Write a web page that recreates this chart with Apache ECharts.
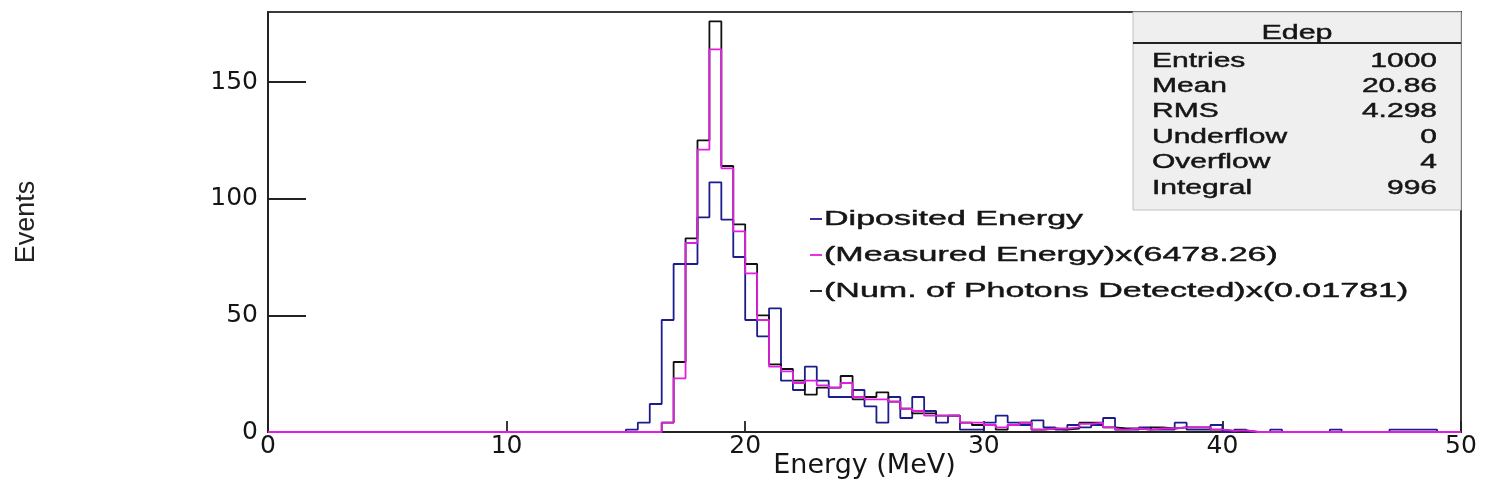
<!DOCTYPE html>
<html><head><meta charset="utf-8">
<script src="https://cdn.jsdelivr.net/npm/echarts@6/dist/echarts.min.js"></script>
<style>html,body{margin:0;padding:0;background:#fff}#c{width:1485px;height:495px}</style>
</head><body><div id="c"></div>
<script>
// Histogram binning (100 bins, 0-50 MeV)
const xMin = 0, xMax = 50, binWidth = 0.5;
const xTickLabels = [0, 10, 20, 30, 40, 50];
const yTickLabels = [0, 50, 100, 150];
const yMax = 180;

// Deposited energy (counts per bin)
const depositedEnergy = [
  0,0,0,0,0,0,0,0,0,0,
  0,0,0,0,0,0,0,0,0,0,
  0,0,0,0,0,0,0,0,0,0,
  1,4,12,48,72,72,92,107,91,75,
  48,41,53,22,18,28,22,15,15,18,
  11,4,15,6,15,9,4,7,1,1,
  4,7,4,3,5,2,1,3,2,3,
  6,1,1,2,1,1,4,1,1,3,
  0,1,0,0,1,0,0,0,0,1,
  0,0,0,0,1,1,1,1,0,0
];
// (Measured Energy) x 6478.26
const measuredEnergy = [
  0,0,0,0,0,0,0,0,0,0,
  0,0,0,0,0,0,0,0,0,0,
  0,0,0,0,0,0,0,0,0,0,
  0,0,0,4,23,81,121,164,113,86,
  68,48,28,26,21,22,20,19,21,15,
  14,14,13,10,9,7,7,7,4,4,
  3,2,3,4,1,1.5,1.5,2,3.5,4,
  2,1,1.5,1,1.5,1.5,2,2,2,1,
  0.5,0.7,0,0,0,0,0,0,0,0,
  0,0,0,0,0,0,0,0,0,0
];
// (Num. of Photons Detected) x 0.01781
const photonsDetected = [
  0,0,0,0,0,0,0,0,0,0,
  0,0,0,0,0,0,0,0,0,0,
  0,0,0,0,0,0,0,0,0,0,
  0,0,0,4,30,83,125,176,114,89,
  72,50,29,27,22,16,19,19,24,14,
  15,17,13,10,8,8,7,7,4,3,
  3,1,3,4,1,1.5,1,1.5,4,4,
  2,1.5,1.5,1,2,1.5,2,2,2,1,
  0.5,0.7,0,0,0,0,0,0,0,0,
  0,0,0,0,0,0,0,0,0,0
];
const seriesNames = ['Diposited Energy', '(Measured Energy)x(6478.26)', '(Num. of Photons Detected)x(0.01781)'];
const statsTitle = 'Edep';
const statsLabels = ['Entries', 'Mean', 'RMS', 'Underflow', 'Overflow', 'Integral'];
const statsValues = ['1000', '20.86', '4.298', '0', '4', '996'];

function stepData(vals) {
  const d = vals.map((v, i) => [xMin + i * binWidth, v]);
  d.push([xMax, vals[vals.length - 1]]);
  return d;
}

const chart = echarts.init(document.getElementById('c'), null, {renderer: 'canvas'});
const F = '"Liberation Sans", Arial, sans-serif';
const colors = ['#1c1c8c', '#e01ee0', '#111111'];
const txt = {fill: '#151515', stroke: '#151515', lineWidth: 0.45};

const graphics = [];
// Stats box
graphics.push({type: 'rect', shape: {x: 1133, y: 12, width: 328, height: 198}, style: {fill: '#efefef', stroke: '#c0c0c0', lineWidth: 1}, z: 10});
graphics.push({type: 'line', shape: {x1: 1133, y1: 43, x2: 1461, y2: 43}, style: {stroke: '#222', lineWidth: 1.8}, z: 11});
graphics.push({type: 'text', x: 1297, y: 33, scaleX: 1.45, z: 11, style: Object.assign({text: statsTitle, font: '21px ' + F, textAlign: 'center', textVerticalAlign: 'middle'}, txt)});
statsLabels.forEach((t, i) => {
  const y = 61 + i * 25.4;
  graphics.push({type: 'text', x: 1152, y: y, scaleX: 1.5, z: 11, style: Object.assign({text: t, font: '20px ' + F, textAlign: 'left', textVerticalAlign: 'middle'}, txt)});
  graphics.push({type: 'text', x: 1437, y: y, scaleX: 1.5, z: 11, style: Object.assign({text: statsValues[i], font: '20px ' + F, textAlign: 'right', textVerticalAlign: 'middle'}, txt)});
});
// Legend
seriesNames.forEach((t, i) => {
  const y = 219 + i * 36;
  graphics.push({type: 'line', shape: {x1: 810, y1: y, x2: 822, y2: y}, style: {stroke: colors[i], lineWidth: 1.8}, z: 11});
  graphics.push({type: 'text', x: 824, y: y, scaleX: 1.62, z: 11, style: Object.assign({text: t, font: '21px ' + F, textAlign: 'left', textVerticalAlign: 'middle'}, txt)});
});

const data = [depositedEnergy, measuredEnergy, photonsDetected];
const zOrder = [2, 4, 3];

chart.setOption({
  animation: false,
  backgroundColor: '#fff',
  grid: {left: 268, right: 24, top: 12, bottom: 63, show: true, borderColor: '#3a3a3a', borderWidth: 2, backgroundColor: 'transparent'},
  xAxis: {
    type: 'value', min: xMin, max: xMax, interval: 10,
    name: 'Energy (MeV)', nameLocation: 'middle', nameGap: 20, nameMoveOverlap: false,
    nameTextStyle: {fontFamily: 'DejaVu Sans', fontSize: 27, color: '#151515', verticalAlign: 'top'},
    axisLine: {show: true, onZero: false, lineStyle: {color: '#222', width: 1.8}},
    axisTick: {show: true, inside: true, length: 11, lineStyle: {color: '#222', width: 1.8}, customValues: xTickLabels},
    axisLabel: {fontFamily: 'DejaVu Sans', fontSize: 25, color: '#151515', margin: 2, customValues: xTickLabels},
    splitLine: {show: false}
  },
  yAxis: {
    type: 'value', min: 0, max: yMax, interval: 50,
    name: 'Events', nameLocation: 'middle', nameGap: 228, nameRotate: 90, nameMoveOverlap: false,
    nameTextStyle: {fontFamily: F, fontSize: 27, color: '#222'},
    axisLine: {show: true, lineStyle: {color: '#222', width: 1.8}},
    axisTick: {show: true, inside: true, length: 38, lineStyle: {color: '#222', width: 1.8}, customValues: yTickLabels},
    axisLabel: {fontFamily: 'DejaVu Sans', fontSize: 25, color: '#151515', margin: 10, customValues: yTickLabels},
    splitLine: {show: false}
  },
  graphic: graphics,
  series: data.map((vals, i) => ({
    name: seriesNames[i], type: 'line', step: 'end', showSymbol: false, symbol: 'none',
    data: stepData(vals), z: zOrder[i],
    lineStyle: {color: colors[i], width: 1.8}, itemStyle: {color: colors[i]}
  }))
});
</script></body></html>
